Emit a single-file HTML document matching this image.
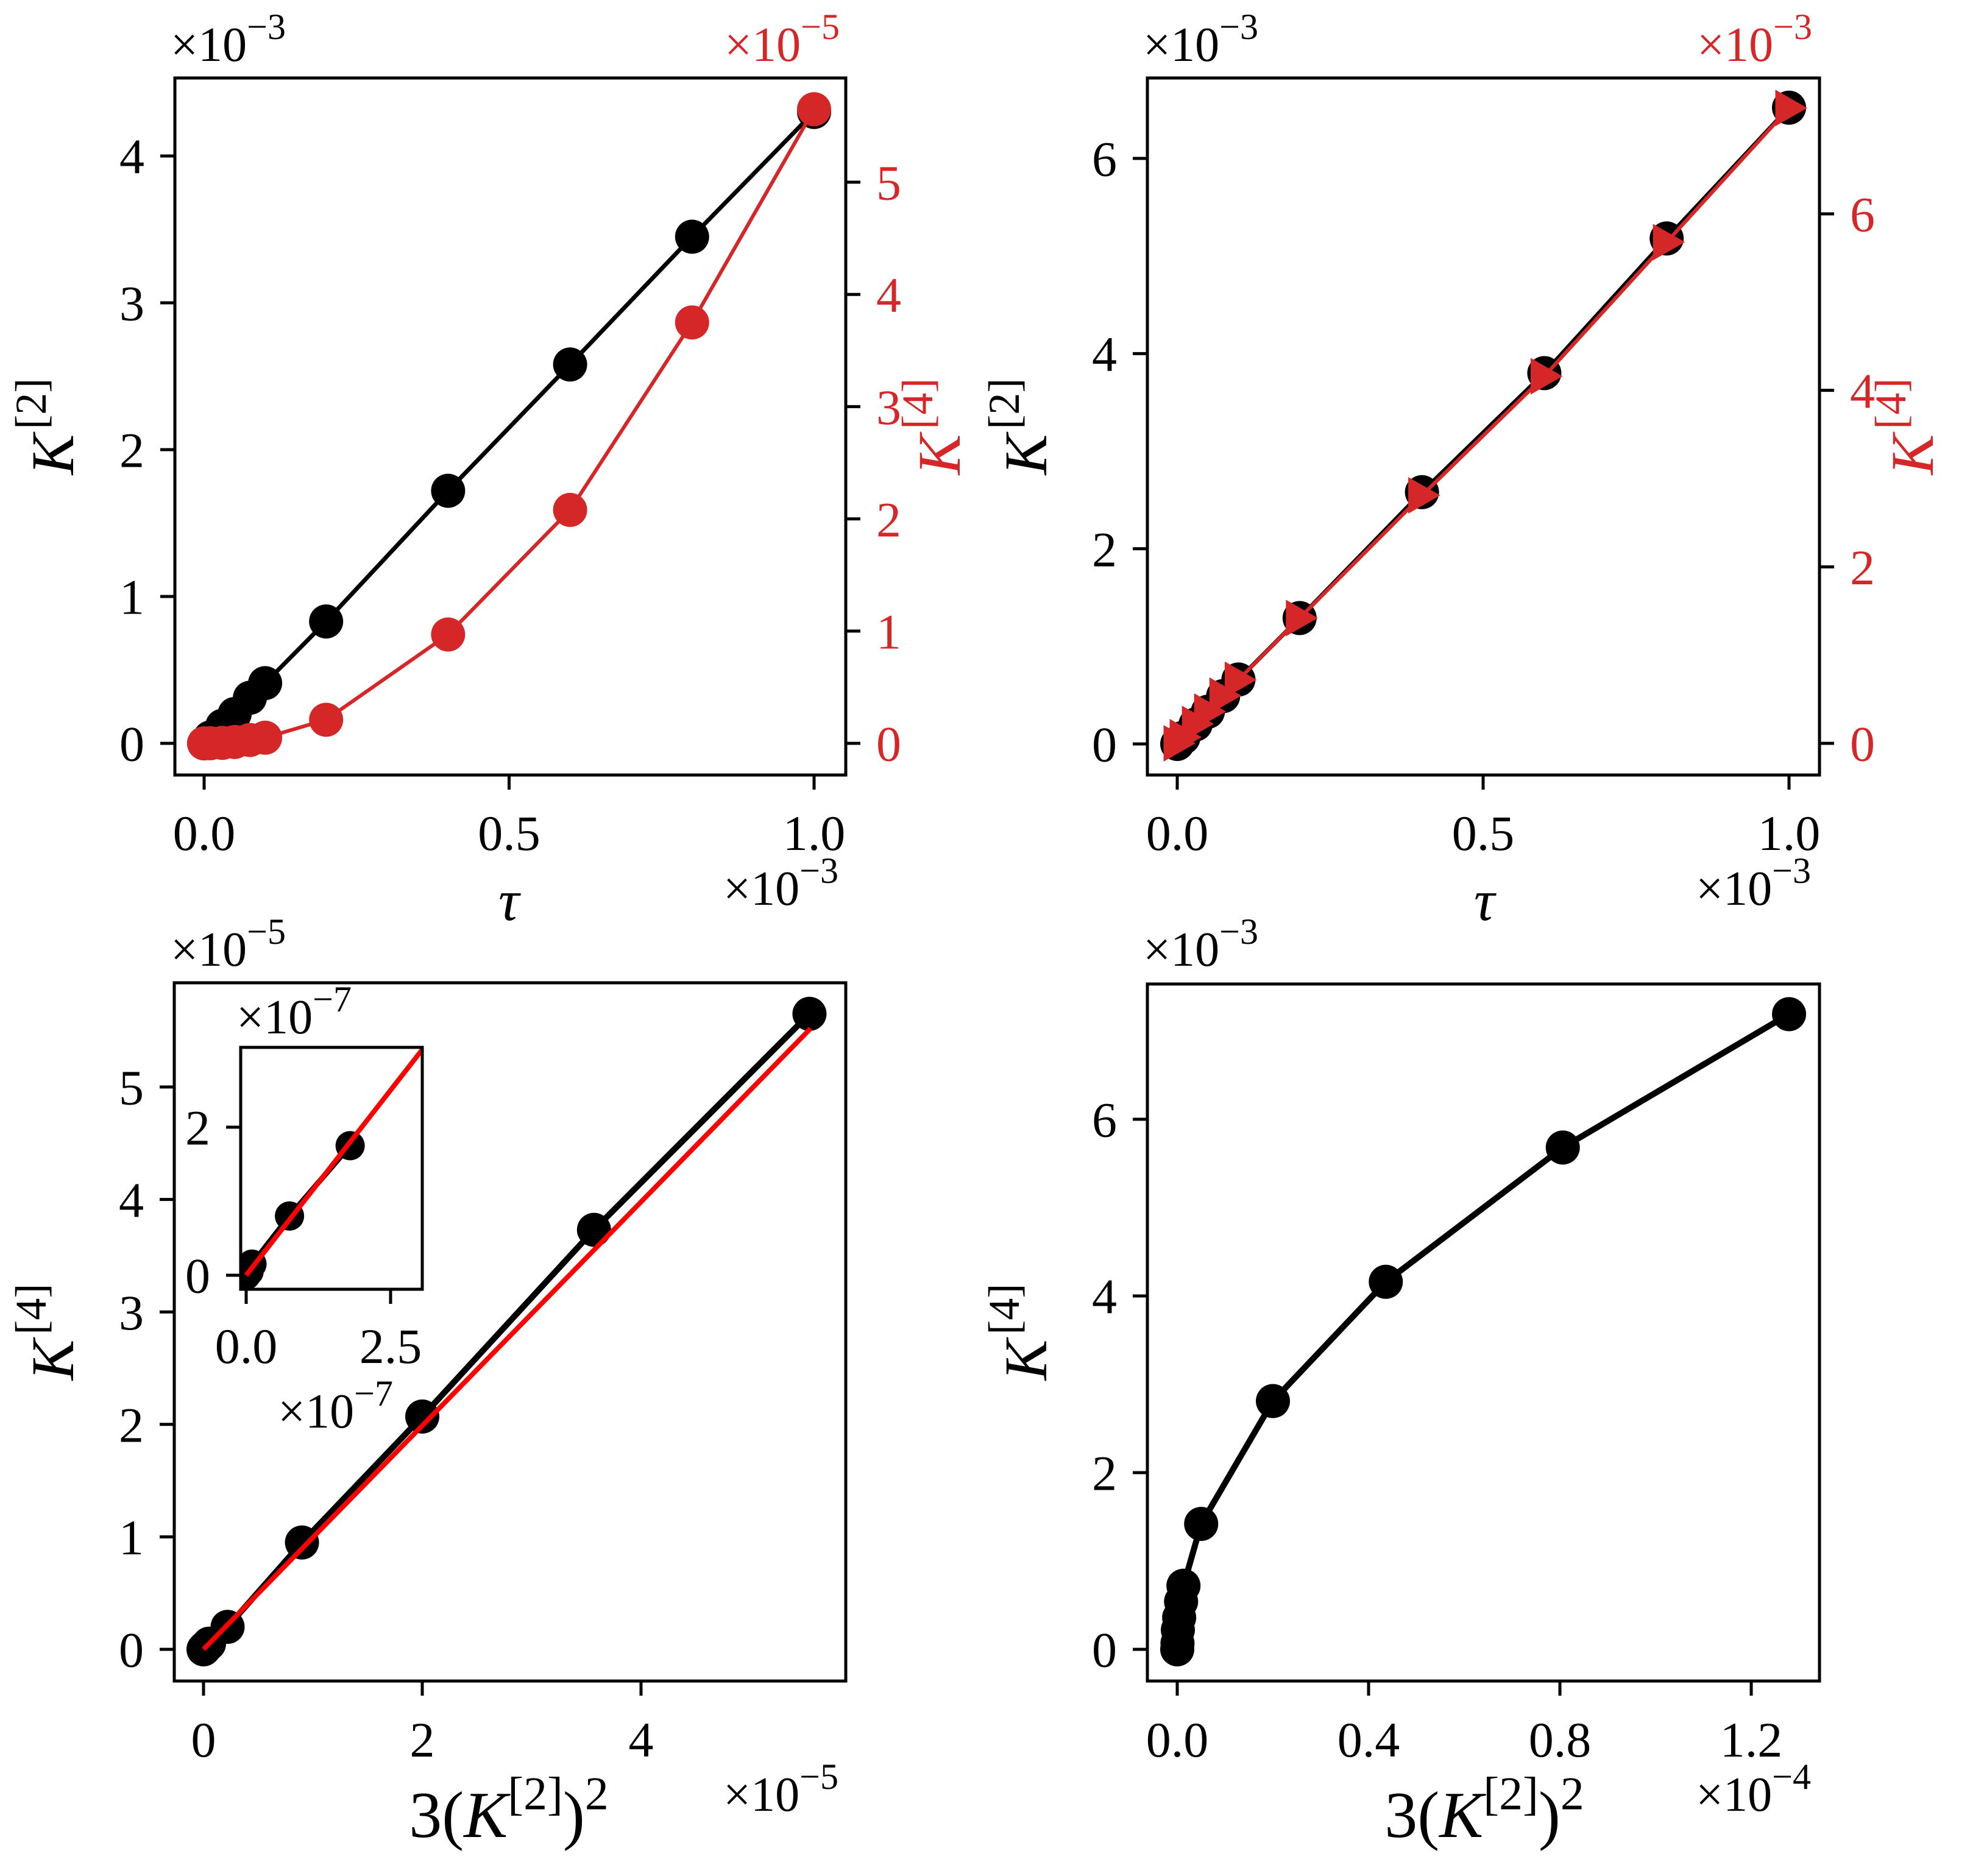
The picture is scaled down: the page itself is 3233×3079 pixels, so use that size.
<!DOCTYPE html>
<html><head><meta charset="utf-8"><style>
html,body{margin:0;padding:0;background:#fff}
svg{display:block}
text{font-family:"Liberation Serif","DejaVu Serif",serif}
</style></head><body>
<svg id="fig" width="3233" height="3079" viewBox="0 0 3233 3079" xmlns="http://www.w3.org/2000/svg"></svg>
<script>
// ---- data ----
const tau = [0, 0.01, 0.03, 0.05, 0.075, 0.1, 0.2, 0.4, 0.6, 0.8, 1.0];          // x 1e-3
const k2A = [0, 0.04, 0.12, 0.2, 0.31, 0.41, 0.83, 1.72, 2.58, 3.45, 4.3];       // 1e-3
const k4A = [0, 0.0005, 0.004, 0.012, 0.03, 0.05, 0.21, 0.97, 2.08, 3.75, 5.65]; // 1e-5
const k2B = [0, 0.065, 0.2, 0.33, 0.49, 0.66, 1.29, 2.58, 3.8, 5.18, 6.52];      // 1e-3
const k4B = [0, 0.07, 0.22, 0.36, 0.54, 0.72, 1.42, 2.81, 4.16, 5.68, 7.2];      // 1e-3
const blX = [0, 0.005, 0.014, 0.05, 0.22, 0.9, 2.0, 3.57, 5.54];                  // 1e-5
const blY = [0, 0.005, 0.015, 0.05, 0.2, 0.95, 2.07, 3.73, 5.65];                 // 1e-5
const fitX = [0, 5.55];
const fitY = [0, 5.52];
const insX = [0, 0.05, 0.1, 0.75, 1.8];   // 1e-7
const insY = [0, 0.05, 0.15, 0.8, 1.75];  // 1e-7
const insFitX = [0, 3.2];
const insFitY = [0, 3.2];
const brX = [0, 0.0005, 0.0013, 0.004, 0.008, 0.013, 0.05, 0.2, 0.436, 0.806, 1.279]; // 1e-4
const brY = [0, 0.07, 0.22, 0.36, 0.54, 0.72, 1.42, 2.81, 4.16, 5.68, 7.19];           // 1e-3

const RED = '#d62728';
const NS = 'http://www.w3.org/2000/svg';
const svg = document.getElementById('fig');
function mk(tag, attrs, parent) {
  const e = document.createElementNS(NS, tag);
  for (const k in attrs) e.setAttribute(k, attrs[k]);
  (parent || svg).appendChild(e);
  return e;
}
function lin(v0, p0, v1, p1) { return v => p0 + (v - v0) * (p1 - p0) / (v1 - v0); }

function offsetText(x, y, exp, color, anchor, size) {
  const t = mk('text', {x: x, y: y, 'font-size': size, fill: color, 'text-anchor': anchor});
  
  
  t.appendChild(document.createTextNode('×10'));
  const s = mk('tspan', {dy: -size * 0.45, 'font-size': size * 0.75}, t);
  s.textContent = '−' + exp;
  return t;
}
function kLabel(x, y, idx, color, size) {
  const t = mk('text', {x: 0, y: 0, 'font-size': size, fill: color, 'text-anchor': 'middle',
    transform: 'translate(' + x + ',' + y + ') rotate(-90)'});
  
  
  const a = mk('tspan', {'font-style': 'italic'}, t); a.textContent = 'K';
  const b = mk('tspan', {dy: -size * 0.45, dx: size * 0.08, 'font-size': size * 0.72}, t); b.textContent = '[' + idx + ']';
  return t;
}
function frame(x0, y0, x1, y1, sw) {
  const r = mk('rect', {x: x0, y: y0, width: x1 - x0, height: y1 - y0, fill: 'none', stroke: '#000', 'stroke-width': sw});
  
  
}
function xTicks(vals, labels, sx, y1, ly, fs) {
  vals.forEach((v, i) => {
    const l = mk('line', {x1: sx(v), x2: sx(v), y1: y1, y2: y1 + 24, stroke: '#000', 'stroke-width': 5});
    
    
    const t = mk('text', {x: sx(v), y: ly, 'font-size': fs, 'text-anchor': 'middle'});
    
    
    t.textContent = labels[i];
  });
}
function yTicks(vals, labels, sy, xEdge, dir, color, fs) {
  vals.forEach((v, i) => {
    const l = mk('line', {x1: xEdge, x2: xEdge + dir * 24, y1: sy(v), y2: sy(v), stroke: '#000', 'stroke-width': 5});
    
    
    const t = mk('text', {x: xEdge + dir * 50, y: sy(v) + fs * 0.35, 'font-size': fs, fill: color,
      'text-anchor': dir < 0 ? 'end' : 'start'});
    
    
    t.textContent = labels[i];
  });
}
function series(xs, ys, sx, sy, color, lw, marker, r, name) {
  const pts = xs.map((x, i) => sx(x) + ',' + sy(ys[i])).join(' ');
  const pl = mk('polyline', {points: pts, fill: 'none', stroke: color, 'stroke-width': lw, 'stroke-linejoin': 'round'});
  
  
  if (!marker) return;
  xs.forEach((x, i) => {
    const cx = sx(x), cy = sy(ys[i]);
    let m;
    if (marker === 'o') m = mk('circle', {cx: cx, cy: cy, r: r, fill: color});
    else m = mk('polygon', {points: (cx + r) + ',' + cy + ' ' + (cx - r * 0.75) + ',' + (cy - r) + ' ' + (cx - r * 0.75) + ',' + (cy + r), fill: color});
    
    
  });
}
function xTitle(x, y, fs, kind) {
  const t = mk('text', {x: x, y: y, 'font-size': fs, 'text-anchor': 'middle'});
  
  
  if (kind === 'tau') { t.setAttribute('font-style', 'italic'); t.textContent = 'τ'; return; }
  const a = mk('tspan', {}, t); a.textContent = '3(';
  const b = mk('tspan', {'font-style': 'italic'}, t); b.textContent = 'K';
  const c = mk('tspan', {dy: -fs * 0.42, 'font-size': fs * 0.72}, t); c.textContent = '[2]';
  const d = mk('tspan', {dy: fs * 0.42}, t); d.textContent = ')';
  const e = mk('tspan', {dy: -fs * 0.42, 'font-size': fs * 0.72}, t); e.textContent = '2';
}
const FS = 82;
const OFS = 80;

// ---- Panel A (top-left) ----
{
  const sx = lin(0, 335, 1, 1336), sy = lin(0, 1220, 4, 256), sr = lin(0, 1220, 5, 299);
  series(tau, k2A, sx, sy, '#000', 7, 'o', 28, 'k2');
  series(tau, k4A, sx, sr, RED, 6, 'o', 28, 'k4');
  frame(287, 128, 1388, 1272, 5);
  xTicks([0, 0.5, 1], ['0.0', '0.5', '1.0'], sx, 1272, 1395, FS);
  yTicks([0, 1, 2, 3, 4], ['0', '1', '2', '3', '4'], sy, 287, -1, '#000', FS);
  yTicks([0, 1, 2, 3, 4, 5], ['0', '1', '2', '3', '4', '5'], sr, 1388, 1, RED, FS);
  offsetText(280, 100, 3, '#000', 'start', OFS);
  offsetText(1378, 100, 5, RED, 'end', OFS);
  offsetText(1376, 1485, 3, '#000', 'end', OFS);
  xTitle(835, 1510, 95, 'tau');
  kLabel(120, 700, 2, '#000', 100);
  kLabel(1575, 700, 4, RED, 100);
}
// ---- Panel B (top-right) ----
{
  const sx = lin(0, 1932, 1, 2936), sy = lin(0, 1221, 6, 260), sr = lin(0, 1220, 6, 351);
  series(tau, k2B, sx, sy, '#000', 7, 'o', 28, 'k2');
  series(tau, k4B, sx, sr, RED, 6, '>', 30, 'k4');
  frame(1883, 128, 2986, 1272, 5);
  xTicks([0, 0.5, 1], ['0.0', '0.5', '1.0'], sx, 1272, 1395, FS);
  yTicks([0, 2, 4, 6], ['0', '2', '4', '6'], sy, 1883, -1, '#000', FS);
  yTicks([0, 2, 4, 6], ['0', '2', '4', '6'], sr, 2986, 1, RED, FS);
  offsetText(1876, 100, 3, '#000', 'start', OFS);
  offsetText(2974, 100, 3, RED, 'end', OFS);
  offsetText(2972, 1485, 3, '#000', 'end', OFS);
  xTitle(2436, 1510, 95, 'tau');
  kLabel(1717, 700, 2, '#000', 100);
  kLabel(3172, 700, 4, RED, 100);
}
// ---- Panel C (bottom-left) ----
{
  const sx = lin(0, 334, 4, 1052), sy = lin(0, 2707, 5, 1784);
  series(blX, blY, sx, sy, '#000', 10, 'o', 28, 'k4-vs-k2sq');
  series(fitX, fitY, sx, sy, '#ff0000', 8, null, 0, 'fit');
  frame(286, 1613, 1388, 2759, 5);
  xTicks([0, 2, 4], ['0', '2', '4'], sx, 2759, 2883, FS);
  yTicks([0, 1, 2, 3, 4, 5], ['0', '1', '2', '3', '4', '5'], sy, 286, -1, '#000', FS);
  offsetText(280, 1585, 5, '#000', 'start', OFS);
  offsetText(1376, 2972, 5, '#000', 'end', OFS);
  xTitle(835, 3015, 108, 'k');
  kLabel(120, 2186, 4, '#000', 100);
  // inset
  const bg = mk('rect', {x: 395, y: 1719, width: 298, height: 397, fill: '#fff'});
  
  
  const ix = lin(0, 404, 2.5, 641), iy = lin(0, 2093, 2, 1850);
  const cp = mk('clipPath', {id: 'insClip'});
  mk('rect', {x: 395, y: 1719, width: 298, height: 397}, cp);
  const g = mk('g', {'clip-path': 'url(#insClip)'});
  
  
  series(insX, insY, ix, iy, '#000', 9, 'o', 24, 'inset-k4');
  series(insFitX, insFitY, ix, iy, '#ff0000', 8, null, 0, 'inset-fit');
  const marks = Array.from(svg.children).slice(-(insX.length + 2));
  marks.forEach(m => g.appendChild(m));
  frame(395, 1719, 693, 2116, 5);
  xTicks([0, 2.5], ['0.0', '2.5'], ix, 2116, 2237, FS);
  yTicks([0, 2], ['0', '2'], iy, 395, -1, '#000', FS);
  offsetText(388, 1696, 7, '#000', 'start', OFS);
  offsetText(456, 2343, 7, '#000', 'start', OFS);
}
// ---- Panel D (bottom-right) ----
{
  const sx = lin(0, 1932, 1.2, 2874), sy = lin(0, 2707, 6, 1837);
  series(brX, brY, sx, sy, '#000', 10, 'o', 28, 'k4-vs-k2sq');
  frame(1883, 1615, 2986, 2759, 5);
  xTicks([0, 0.4, 0.8, 1.2], ['0.0', '0.4', '0.8', '1.2'], sx, 2759, 2883, FS);
  yTicks([0, 2, 4, 6], ['0', '2', '4', '6'], sy, 1883, -1, '#000', FS);
  offsetText(1876, 1585, 3, '#000', 'start', OFS);
  offsetText(2972, 2972, 4, '#000', 'end', OFS);
  xTitle(2436, 3015, 108, 'k');
  kLabel(1717, 2186, 4, '#000', 100);
}
</script>
</body></html>
